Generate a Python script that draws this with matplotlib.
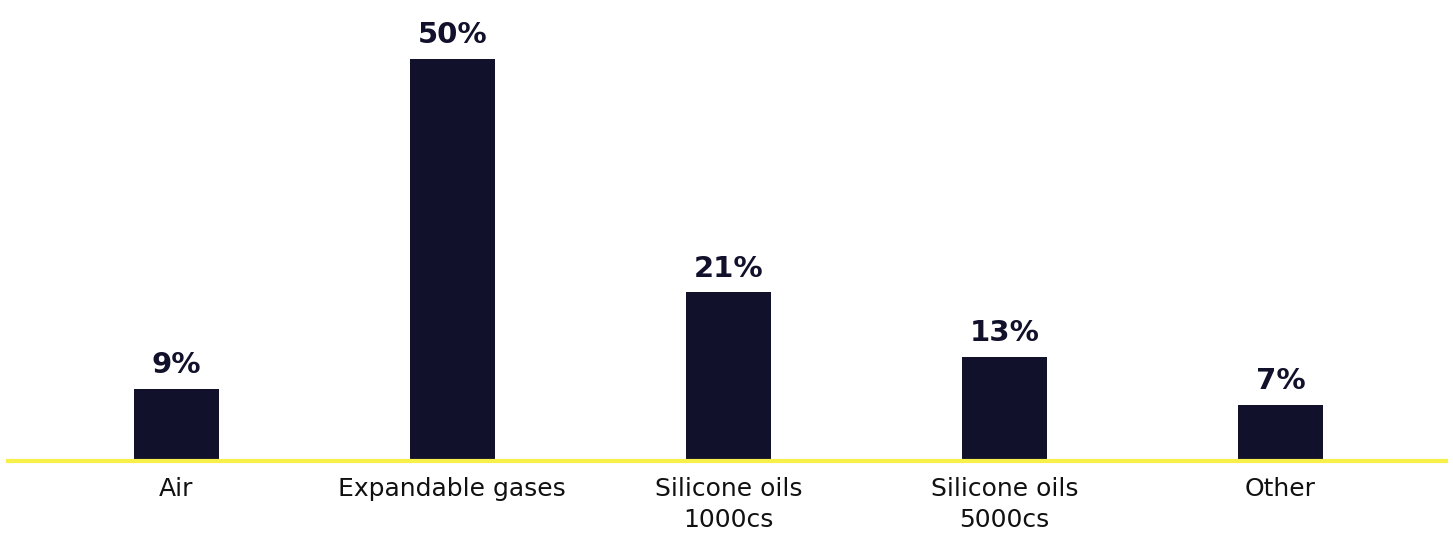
import matplotlib
matplotlib.use("Agg")
import matplotlib.pyplot as plt

categories = ["Air", "Expandable gases", "Silicone oils\n1000cs", "Silicone oils\n5000cs", "Other"]
values = [9, 50, 21, 13, 7]
value_labels = ["9%", "50%", "21%", "13%", "7%"]

BAR_COLOR = "#12112b"
LINE_COLOR = "#f7f04a"

fig = plt.figure(figsize=(14.53, 5.38), dpi=100)
W, H = 1453, 538
ax_left, ax_right = 8 / W, 1446 / W
ax_bottom = (H - 461) / H
ax_top = 19 / H
ax = fig.add_axes([ax_left, ax_bottom, ax_right - ax_left, 1 - ax_top - ax_bottom])

x = list(range(len(categories)))
ax.bar(x, values, width=0.31, color=BAR_COLOR, zorder=2)
ax.set_xlim(-0.61, 4.6)
ax.set_ylim(0, 55)

for xi, v, lab in zip(x, values, value_labels):
    ax.annotate(lab, (xi, v), xytext=(0, 7), textcoords="offset points",
                ha="center", va="bottom", fontsize=21, fontweight="bold",
                family="DejaVu Sans", color=BAR_COLOR)

for s in ["top", "right", "left"]:
    ax.spines[s].set_visible(False)
ax.spines["bottom"].set_color(LINE_COLOR)
ax.spines["bottom"].set_linewidth(3.0)
ax.spines["bottom"].set_zorder(3)
ax.set_yticks([])
ax.set_xticks(x)
ax.set_xticklabels(categories, fontsize=18, family="DejaVu Sans", color="#111111", linespacing=1.35)
ax.tick_params(axis="x", length=0, pad=11.5)

fig.savefig("out.png", dpi=100)
